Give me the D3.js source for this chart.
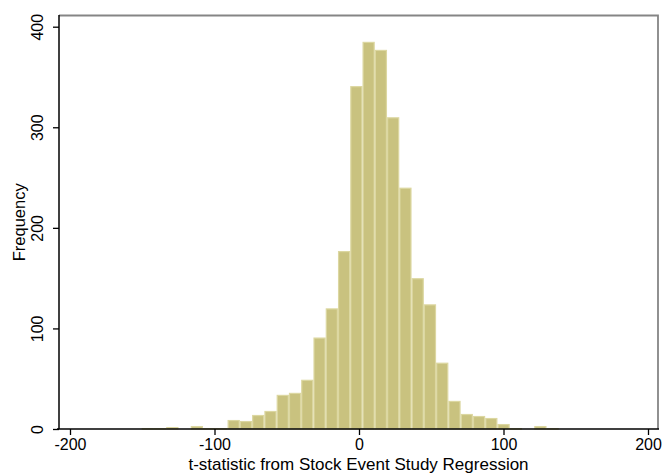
<!DOCTYPE html>
<html>
<head>
<meta charset="utf-8">
<script src="https://cdn.jsdelivr.net/npm/d3@7"></script>
<style>
  html, body { margin: 0; padding: 0; background: #fff; }
  text { font-family: "Liberation Sans", Arial, Helvetica, sans-serif; }
</style>
</head>
<body>
<svg id="chart" width="662" height="473"></svg>
<script>
// ---- data ----
const binStart = -150.4;   // left edge of first bin (t-statistic units)
const binWidth = 8.49;     // bin width (t-statistic units)
const counts = [1, 1, 2, 0, 3, 1, 1, 9, 8, 14, 18, 34, 36, 49, 91, 120, 177,
                341, 385, 377, 310, 240, 150, 124, 66, 28, 15, 13, 11, 5, 1, 0, 3, 1];
const xTicks = [-200, -100, 0, 100, 200];
const yTicks = [0, 100, 200, 300, 400];
const xTitle = "t-statistic from Stock Event Study Regression";
const yTitle = "Frequency";

// ---- layout ----
const W = 662, H = 473;
const plot = { left: 59, right: 658, top: 15.5, bottom: 429 };

const svg = d3.select("#chart");
svg.append("rect").attr("width", W).attr("height", H).attr("fill", "#fff");

const x = d3.scaleLinear().domain([-200, 200]).range([70, 648]);
const y = d3.scaleLinear().domain([0, 400]).range([429, 26.7]);

const bins = counts.map((c, i) => ({
  x0: binStart + i * binWidth,
  x1: binStart + (i + 1) * binWidth,
  count: c
}));

// bars
const sw = 1.2;
svg.append("g").selectAll("rect")
  .data(bins.filter(d => d.count > 0))
  .join("rect")
  .attr("x", d => x(d.x0) + sw / 2)
  .attr("y", d => y(d.count) + sw / 2)
  .attr("width", d => x(d.x1) - x(d.x0) - sw)
  .attr("height", d => Math.max(0.5, y(0) - y(d.count) - sw / 2))
  .attr("fill", "#c9c27f")
  .attr("stroke", "#dcd7a1")
  .attr("stroke-width", sw);

// frame: top and right in gray
svg.append("path")
  .attr("d", `M${plot.left},${plot.top}H${plot.right}V${plot.bottom}`)
  .attr("fill", "none")
  .attr("stroke", "#858585")
  .attr("stroke-width", 1.8);

// x axis
const xAxis = svg.append("g")
  .attr("transform", `translate(0,${plot.bottom})`)
  .call(d3.axisBottom(x).tickValues(xTicks).tickSize(6).tickFormat(d3.format("d")));
xAxis.select(".domain").remove();
xAxis.selectAll(".tick line").attr("stroke", "#000").attr("stroke-width", 1.3);
xAxis.selectAll(".tick text")
  .attr("y", 21).attr("dy", 0)
  .attr("fill", "#000")
  .style("font-size", "16px")
  .text(d => d < 0 ? "-" + Math.abs(d) : d);
svg.append("line")
  .attr("x1", 57).attr("x2", plot.right + 1)
  .attr("y1", plot.bottom).attr("y2", plot.bottom)
  .attr("stroke", "#000").attr("stroke-width", 1.5);

// y axis
const yAxis = svg.append("g")
  .attr("transform", `translate(${plot.left},0)`)
  .call(d3.axisLeft(y).tickValues(yTicks).tickSize(6));
yAxis.select(".domain").remove();
yAxis.selectAll(".tick line").attr("stroke", "#000").attr("stroke-width", 1.3);
yAxis.selectAll(".tick text")
  .attr("transform", "rotate(-90)")
  .attr("x", 0).attr("y", -16).attr("dy", 0)
  .attr("text-anchor", "middle")
  .attr("fill", "#000")
  .style("font-size", "16px");
svg.append("line")
  .attr("x1", plot.left).attr("x2", plot.left)
  .attr("y1", plot.top - 0.5).attr("y2", plot.bottom)
  .attr("stroke", "#000").attr("stroke-width", 1.5);

// titles
svg.append("text")
  .attr("x", (plot.left + plot.right) / 2).attr("y", 469.5)
  .attr("text-anchor", "middle")
  .style("font-size", "17px")
  .attr("fill", "#000")
  .text(xTitle);

svg.append("text")
  .attr("transform", `translate(25,${(plot.top + plot.bottom) / 2}) rotate(-90)`)
  .attr("text-anchor", "middle")
  .style("font-size", "16.5px")
  .attr("fill", "#000")
  .text(yTitle);
</script>
</body>
</html>
